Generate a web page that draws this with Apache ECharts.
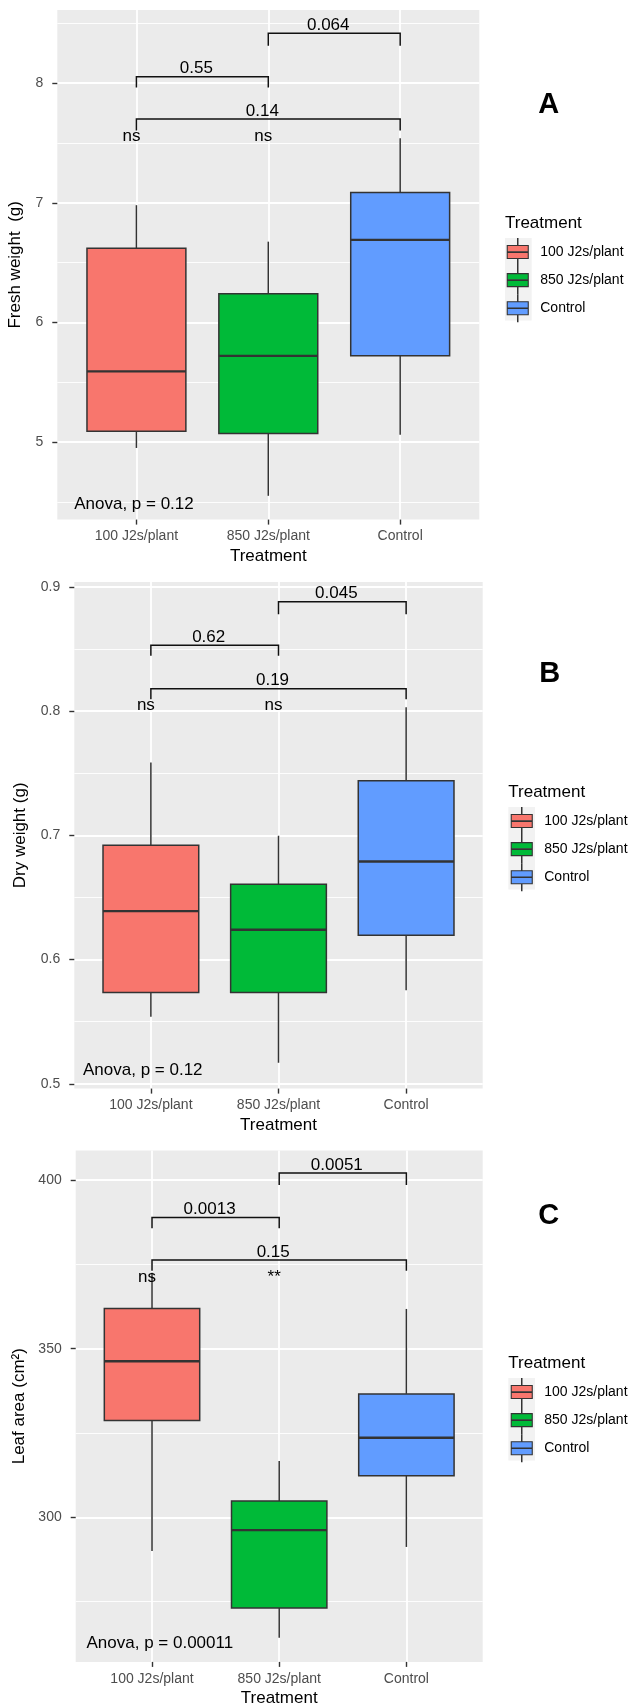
<!DOCTYPE html>
<html><head><meta charset="utf-8">
<script src="https://cdn.jsdelivr.net/npm/echarts@6.0.0/dist/echarts.min.js"></script>
<style>html,body{margin:0;padding:0;background:#fff}#chart{width:630px;height:1704px}</style>
</head><body><div id="chart"></div>
<script>
// ---------- data ----------
const categories = ['100 J2s/plant', '850 J2s/plant', 'Control'];
const colors = ['#F8766D', '#00BA38', '#619CFF'];
// box statistics per treatment: [lower whisker, Q1, median, Q3, upper whisker]
const freshWeight = [[4.95, 5.09, 5.59, 6.62, 6.98], [4.55, 5.07, 5.72, 6.24, 6.675], [5.06, 5.72, 6.69, 7.085, 7.54]];
const dryWeight = [[0.554, 0.5736, 0.639, 0.692, 0.7586], [0.517, 0.5736, 0.624, 0.6607, 0.6997], [0.5753, 0.6196, 0.679, 0.744, 0.803]];
const leafArea = [[290.0, 328.7, 346.3, 361.9, 372.5], [264.3, 273.1, 296.2, 304.8, 316.7], [291.2, 312.3, 323.6, 336.6, 361.8]];

const freshTicks = [5, 6, 7, 8];
const dryTicks = [0.5, 0.6, 0.7, 0.8, 0.9];
const leafTicks = [300, 350, 400];

// pairwise comparison brackets: [group a, group b]
const bracketPairs = [[1, 2], [0, 1], [0, 2]];
const freshBracketY = [8.418, 8.054, 7.700];
const freshBracketTip = [8.314, 7.964, 7.605];
const freshBracketLabels = ['0.064', '0.55', '0.14'];
const dryBracketY = [0.888, 0.853, 0.818];
const dryBracketTip = [0.878, 0.8446, 0.8095];
const dryBracketLabels = ['0.045', '0.62', '0.19'];
const leafBracketY = [402.1, 388.9, 376.3];
const leafBracketTip = [398.6, 385.7, 373.1];
const leafBracketLabels = ['0.0051', '0.0013', '0.15'];

// significance vs control
const freshSig = ['ns', 'ns'];
const drySig = ['ns', 'ns'];
const leafSig = ['ns', '**'];
const sigY = [7.559, 0.805, 371.3];

const anovaLabels = ['Anova, p = 0.12', 'Anova, p = 0.12', 'Anova, p = 0.00011'];
const anovaPos = [[-0.472, 4.479], [-0.532, 0.5106], [-0.515, 262.7]];

// ---------- layout ----------
const FONT = "'Liberation Sans', Arial, Helvetica, sans-serif";
const panels = [
  { letter: 'A', grid: { left: 57.3, top: 10, width: 422, height: 509.6 }, yMin: 4.351, yMax: 8.612,
    yName: 'Fresh weight  (g)', yNameGap: 33, box: freshWeight, ticks: freshTicks,
    bY: freshBracketY, bTip: freshBracketTip, bLab: freshBracketLabels, sig: freshSig,
    letterPos: [538.3, 90], legTitleTop: 214.5, legLeft: 500.7, legTop: 238, keyBg: [505, 238] },
  { letter: 'B', grid: { left: 74.3, top: 582.1, width: 408.4, height: 506.5 }, yMin: 0.4962, yMax: 0.9038,
    yName: 'Dry weight (g)', yNameGap: 45, box: dryWeight, ticks: dryTicks,
    bY: dryBracketY, bTip: dryBracketTip, bLab: dryBracketLabels, sig: drySig,
    letterPos: [539.3, 659], legTitleTop: 784, legLeft: 504.7, legTop: 807, keyBg: [508.3, 807] },
  { letter: 'C', grid: { left: 75.7, top: 1150.5, width: 407, height: 511.4 }, yMin: 257.1, yMax: 408.8,
    yName: 'Leaf area (cm\u00B2)', yNameGap: 47, box: leafArea, ticks: leafTicks,
    bY: leafBracketY, bTip: leafBracketTip, bLab: leafBracketLabels, sig: leafSig,
    letterPos: [538.3, 1201.5], legTitleTop: 1355, legLeft: 504.7, legTop: 1378, keyBg: [508.3, 1378] }
];

const keyPath = 'path://M0,13.5L0.01,13.5M34,13.5L33.99,13.5' +
  'M16.3,0L16.7,0L16.7,7L16.3,7Z' +
  'M6,7L27,7L27,13.2L6,13.2Z' +
  'M6,13.8L27,13.8L27,20L6,20Z' +
  'M16.3,20L16.7,20L16.7,27L16.3,27Z';

function renderBox(params, api) {
  const x = api.value(0);
  const pLow = api.coord([x, api.value(1)]);
  const pQ1 = api.coord([x, api.value(2)]);
  const pMed = api.coord([x, api.value(3)]);
  const pQ3 = api.coord([x, api.value(4)]);
  const pHigh = api.coord([x, api.value(5)]);
  const hw = api.size([0.75, 0])[0] / 2;
  const col = api.visual('color');
  const ls = { stroke: '#333333', lineWidth: 1.5 };
  return { type: 'group', children: [
    { type: 'line', shape: { x1: pHigh[0], y1: pHigh[1], x2: pQ3[0], y2: pQ3[1] }, style: ls },
    { type: 'line', shape: { x1: pQ1[0], y1: pQ1[1], x2: pLow[0], y2: pLow[1] }, style: ls },
    { type: 'rect', shape: { x: pQ3[0] - hw, y: pQ3[1], width: 2 * hw, height: pQ1[1] - pQ3[1] },
      style: { fill: col, stroke: '#333333', lineWidth: 1.5 } },
    { type: 'line', shape: { x1: pMed[0] - hw, y1: pMed[1], x2: pMed[0] + hw, y2: pMed[1] },
      style: { stroke: '#333333', lineWidth: 2.4 } }
  ] };
}

const grids = [], xAxes = [], yAxes = [], series = [], titles = [], legends = [], graphics = [];

panels.forEach((p, i) => {
  grids.push(Object.assign({ show: true, backgroundColor: '#EBEBEB', borderWidth: 0, containLabel: false, outerBoundsMode: 'none' }, p.grid));
  xAxes.push({
    type: 'value', gridIndex: i, min: -0.6, max: 2.6, splitNumber: 3, position: 'bottom',
    axisLine: { show: false, onZero: false },
    axisTick: { show: true, length: 5, lineStyle: { color: '#333333', width: 1.4 }, customValues: [0, 1, 2] },
    axisLabel: { customValues: [0, 1, 2], margin: 10, fontSize: 14, color: '#4D4D4D', fontFamily: FONT,
      formatter: v => (Number.isInteger(v) && categories[v]) ? categories[v] : '' },
    splitLine: { show: true, lineStyle: { color: '#FFFFFF', width: 1.8 } },
    name: 'Treatment', nameLocation: 'middle', nameGap: 28,
    nameTextStyle: { fontSize: 17, color: '#000', fontFamily: FONT }
  });
  yAxes.push({
    type: 'value', gridIndex: i, min: p.yMin, max: p.yMax, splitNumber: 3, position: 'left',
    axisLine: { show: false, onZero: false },
    axisTick: { show: true, length: 5, lineStyle: { color: '#333333', width: 1.4 }, customValues: p.ticks },
    axisLabel: { customValues: p.ticks, margin: 14, fontSize: 14, color: '#4D4D4D', fontFamily: FONT,
      formatter: v => p.ticks.indexOf(v) >= 0 ? String(v) : '' },
    splitLine: { show: true, lineStyle: { color: '#FFFFFF', width: 1.8 } },
    minorTick: { show: false, splitNumber: 2 },
    minorSplitLine: { show: true, lineStyle: { color: '#FFFFFF', width: 0.9 } },
    name: p.yName, nameLocation: 'middle', nameGap: p.yNameGap,
    nameTextStyle: { fontSize: 17, color: '#000', fontFamily: FONT }
  });
  categories.forEach((c, k) => {
    series.push({
      type: 'custom', name: c, xAxisIndex: i, yAxisIndex: i, z: 3,
      itemStyle: { color: colors[k] },
      data: [[k].concat(p.box[k])],
      encode: { x: 0, y: [1, 2, 3, 4, 5] },
      renderItem: renderBox
    });
  });
  // brackets
  series.push({
    type: 'custom', name: 'brackets' + i, xAxisIndex: i, yAxisIndex: i, z: 4,
    data: bracketPairs.map((pr, k) => [pr[0], pr[1], p.bY[k], p.bTip[k]]),
    encode: { x: [0, 1], y: [2, 3] },
    renderItem: (params, api) => {
      const a = api.coord([api.value(0), api.value(3)]);
      const b = api.coord([api.value(0), api.value(2)]);
      const c = api.coord([api.value(1), api.value(2)]);
      const d = api.coord([api.value(1), api.value(3)]);
      return { type: 'group', children: [
        { type: 'polyline', shape: { points: [a, b, c, d] }, style: { stroke: '#111', lineWidth: 1.5, fill: null } },
        { type: 'text', x: (b[0] + c[0]) / 2 - 6, y: b[1] - 8.2,
          style: { text: p.bLab[params.dataIndex], fill: '#000', fontSize: 17, fontFamily: FONT, align: 'center', verticalAlign: 'middle' } }
      ] };
    }
  });
  // significance labels
  series.push({
    type: 'custom', name: 'sig' + i, xAxisIndex: i, yAxisIndex: i, z: 4,
    data: p.sig.map((s, k) => [k, sigY[i]]),
    encode: { x: 0, y: 1 },
    renderItem: (params, api) => {
      const pt = api.coord([api.value(0), api.value(1)]);
      return { type: 'text', x: pt[0] - 5, y: pt[1],
        style: { text: p.sig[params.dataIndex], fill: '#000', fontSize: 17, fontFamily: FONT, align: 'center', verticalAlign: 'middle' } };
    }
  });
  // anova label
  series.push({
    type: 'custom', name: 'anova' + i, xAxisIndex: i, yAxisIndex: i, z: 4,
    data: [anovaPos[i]],
    encode: { x: 0, y: 1 },
    renderItem: (params, api) => {
      const pt = api.coord([api.value(0), api.value(1)]);
      return { type: 'text', x: pt[0], y: pt[1],
        style: { text: anovaLabels[i], fill: '#000', fontSize: 17, fontFamily: FONT, align: 'left', verticalAlign: 'middle' } };
    }
  });
  titles.push({ text: p.letter, left: p.letterPos[0], top: p.letterPos[1], padding: 0,
    textStyle: { fontSize: 29, fontWeight: 'bold', color: '#000', fontFamily: FONT } });
  titles.push({ text: 'Treatment', left: p.keyBg[0], top: p.legTitleTop, padding: 0,
    textStyle: { fontSize: 17, fontWeight: 'normal', color: '#000', fontFamily: FONT } });
  legends.push({
    data: categories, orient: 'vertical', left: p.legLeft, top: p.legTop, padding: 0,
    itemGap: 0, itemWidth: 34, itemHeight: 27.5, icon: keyPath, selectedMode: false,
    itemStyle: { borderColor: '#333333', borderWidth: 1.1 },
    textStyle: { fontSize: 14, color: '#000', fontFamily: FONT }
  });
  graphics.push({ type: 'rect', left: p.keyBg[0], top: p.keyBg[1], z: -1,
    shape: { width: 26.7, height: 82.5 }, style: { fill: '#F2F2F2' } });
});

const chart = echarts.init(document.getElementById('chart'), null, { renderer: 'canvas' });
chart.setOption({
  backgroundColor: '#FFFFFF',
  animation: false,
  textStyle: { fontFamily: FONT },
  title: titles,
  legend: legends,
  grid: grids,
  xAxis: xAxes,
  yAxis: yAxes,
  graphic: graphics,
  series: series
});
</script></body></html>
